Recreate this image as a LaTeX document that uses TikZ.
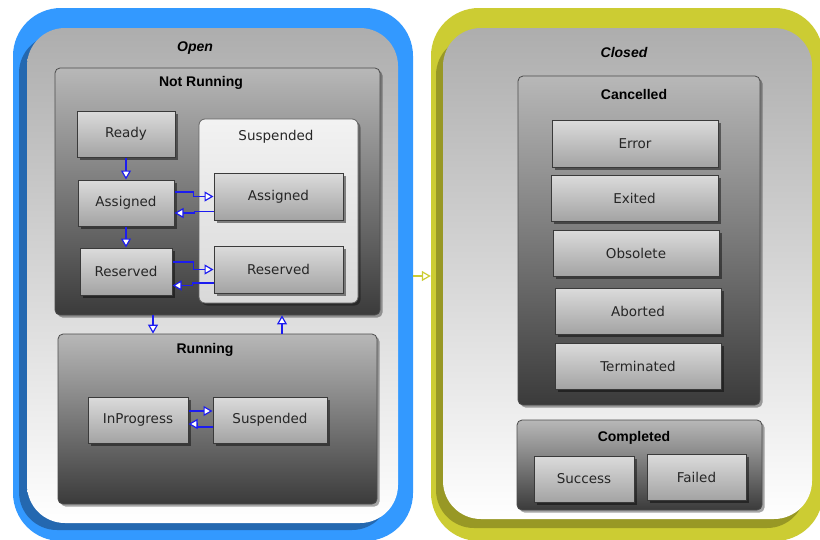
\documentclass[tikz,border=0pt]{standalone}
\usepackage{fontspec}
\setmainfont{DejaVu Sans}
\newfontfamily\titlefont{Liberation Sans}
\usetikzlibrary{arrows.meta,shadows,calc}
\definecolor{openblue}{HTML}{3399FF}
\definecolor{openshade}{HTML}{2468B0}
\definecolor{closedyel}{HTML}{CCCC33}
\definecolor{closedshade}{HTML}{989825}
\definecolor{arrblue}{HTML}{1C1CF0}
\definecolor{boxline}{HTML}{3A3A3A}
\begin{document}
\begin{tikzpicture}[x=1pt,y=-1pt,
  outerbox/.style={rectangle, rounded corners=48pt, inner sep=0pt},
  innerpanel/.style={rectangle, rounded corners=38pt, inner sep=0pt, top color=black!32, bottom color=white},
  grpbox/.style={rectangle, rounded corners=5pt, inner sep=0pt, draw=black!70, line width=0.8pt,
     top color=black!28, bottom color=black!77,
     drop shadow={shadow xshift=2.5pt, shadow yshift=-2.5pt, opacity=0.35, fill=black}},
  lightgrp/.style={rectangle, rounded corners=6pt, inner sep=0pt, draw=black!60, line width=0.8pt,
     top color=black!5, bottom color=black!15,
     drop shadow={shadow xshift=2.5pt, shadow yshift=-2.5pt, opacity=0.35, fill=black}},
  statebox/.style={rectangle, inner sep=0pt, draw=boxline, line width=1pt,
     top color=black!14, bottom color=black!36, text=black!85,
     font=\fontsize{13.5}{15}\selectfont,
     drop shadow={shadow xshift=3pt, shadow yshift=-3pt, opacity=0.45, fill=black}},
  grptitle/.style={font=\titlefont\bfseries\fontsize{14}{16}\selectfont, inner sep=0pt},
  plaintitle/.style={font=\fontsize{13.5}{15}\selectfont, inner sep=0pt, text=black!85},
  arr/.style={draw=arrblue, line width=1.2pt, -{Triangle[length=9pt,width=10pt,fill=white]}},
  yarr/.style={draw=closedyel, line width=1.2pt, -{Triangle[length=9pt,width=10pt,fill=white]}}
]
\useasboundingbox (0,0) rectangle (820,539);
\clip (0,0) rectangle (820,539);
\fill[white] (0,0) rectangle (820,539);

% Open container
\node[outerbox, fill=openblue, minimum width=400pt, minimum height=533pt] (openouter) at (213,274.5) {};
\node[innerpanel, minimum width=371pt, minimum height=495pt,
  drop shadow={shadow xshift=-8pt, shadow yshift=-7pt, opacity=1, fill=openshade}] (openinner) at (212.5,275.5) {};
\node[grptitle, font=\titlefont\bfseries\itshape\fontsize{14}{16}\selectfont] (opentitle) at (195,48) {Open};

% Not Running
\node[grpbox, minimum width=325pt, minimum height=247pt] (notrun) at (217.5,191.5) {};
\node[grptitle] (notruntitle) at (201,83) {Not Running};
\node[statebox, minimum width=98pt, minimum height=46pt] (ready) at (126,134) {Ready};
\node[statebox, minimum width=96pt, minimum height=46pt] (assigned) at (126,203) {Assigned};
\node[statebox, minimum width=92pt, minimum height=47pt] (reserved) at (126,271.5) {Reserved};
\node[lightgrp, minimum width=159pt, minimum height=184pt] (susppanel) at (278.5,211) {};
\node[plaintitle] (susptitle) at (276,137) {Suspended};
\node[statebox, minimum width=129pt, minimum height=47pt] (sassigned) at (278.5,196.5) {Assigned};
\node[statebox, minimum width=129pt, minimum height=47pt] (sreserved) at (278.5,269.5) {Reserved};

% Running
\node[grpbox, minimum width=319pt, minimum height=170pt] (running) at (217.5,419) {};
\node[grptitle] (runningtitle) at (205,350) {Running};
\node[statebox, minimum width=100pt, minimum height=46pt] (inprog) at (138,420) {InProgress};
\node[statebox, minimum width=114pt, minimum height=46pt] (rsusp) at (270,420) {Suspended};

% Closed container
\node[outerbox, fill=closedyel, minimum width=392pt, minimum height=533pt] (closedouter) at (627,274.5) {};
\node[innerpanel, minimum width=369pt, minimum height=491pt,
  drop shadow={shadow xshift=-7pt, shadow yshift=-9pt, opacity=1, fill=closedshade}] (closedinner) at (627.5,273.5) {};
\node[grptitle, font=\titlefont\bfseries\itshape\fontsize{14}{16}\selectfont] (closedtitle) at (624,52) {Closed};

% Cancelled
\node[grpbox, minimum width=242pt, minimum height=329pt] (cancelled) at (639,240.5) {};
\node[grptitle] (cancelledtitle) at (634,94) {Cancelled};
\node[statebox, minimum width=166pt, minimum height=47pt] (error) at (635,143.5) {Error};
\node[statebox, minimum width=167pt, minimum height=46pt] (exited) at (634.5,198) {Exited};
\node[statebox, minimum width=166pt, minimum height=46pt] (obsolete) at (636,253) {Obsolete};
\node[statebox, minimum width=166pt, minimum height=46pt] (aborted) at (638,311) {Aborted};
\node[statebox, minimum width=166pt, minimum height=46pt] (terminated) at (638,366) {Terminated};

% Completed
\node[grpbox, minimum width=245pt, minimum height=90pt] (completed) at (639.5,465) {};
\node[grptitle] (completedtitle) at (634,438) {Completed};
\node[statebox, minimum width=100pt, minimum height=46pt] (success) at (584,479) {Success};
\node[statebox, minimum width=99pt, minimum height=46pt] (failed) at (696.5,477) {Failed};

% Connectors
\draw[arr] (ready.south) -- (ready.south |- assigned.north);
\draw[arr] (assigned.south) -- (assigned.south |- reserved.north);
\draw[arr] ([yshift=11pt]assigned.east) -- ++(19,0) |- (sassigned.west);
\draw[arr] ([yshift=-15pt]sassigned.west) -- ++(-19,0) |- ([yshift=-10pt]assigned.east);
\draw[arr] ([yshift=9.5pt]reserved.east) -- ++(21,0) |- (sreserved.west);
\draw[arr] ([yshift=-13.5pt]sreserved.west) -- ++(-21,0) |- ([yshift=-14pt]reserved.east);
\draw[arr] ([xshift=-64.5pt]notrun.south) -- ([xshift=-64.5pt]notrun.south |- running.north);
\draw[arr] ([xshift=64.5pt]running.north) -- ([xshift=64.5pt]running.north |- notrun.south);
\draw[arr] ([yshift=9pt]inprog.east) -- ([yshift=9pt]inprog.east -| rsusp.west);
\draw[arr] ([yshift=-7pt]rsusp.west) -- ++(-15,0) |- ([yshift=-4pt]inprog.east);
\draw[yarr] ([yshift=-1.5pt]openouter.east) -- ([yshift=-1.5pt]openouter.east -| closedouter.west);
\end{tikzpicture}
\end{document}
